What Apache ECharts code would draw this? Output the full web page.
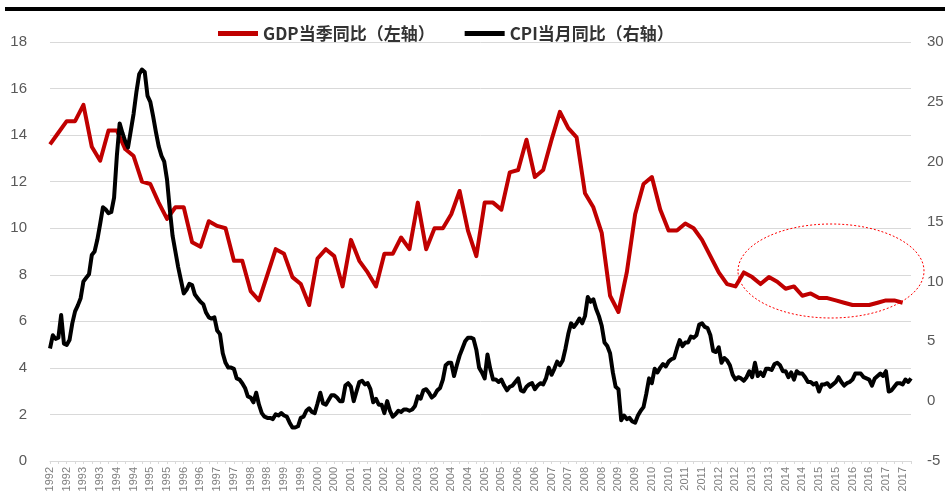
<!DOCTYPE html>
<html>
<head>
<meta charset="utf-8">
<script src="https://cdn.jsdelivr.net/npm/echarts@6/dist/echarts.min.js"></script>
<style>
html,body{margin:0;padding:0;background:#fff;}
#main{width:949px;height:502px;}
</style>
</head>
<body>
<div id="main"></div>
<script>
// 月份类目 1992-01 ~ 2017-10
var monthArray = [];
for (var y = 1992; y <= 2017; y++) {
	for (var m = 1; m <= 12; m++) {
		if (y == 2017 && m > 10) break;
		monthArray.push(y + '-' + (m < 10 ? '0' + m : m));
	}
}

// GDP当季同比，1992Q1 ~ 2017Q3
var gdpDataArray = [
	13.6, 14.1, 14.6, 14.6,
	15.3, 13.5, 12.9, 14.2,
	14.2, 13.4, 13.1, 12.0,
	11.9, 11.1, 10.4, 10.9,
	10.9, 9.4, 9.2, 10.3,
	10.1, 10.0, 8.6, 8.6,
	7.3, 6.9, 8.0, 9.1,
	8.9, 7.9, 7.6, 6.7,
	8.7, 9.1, 8.8, 7.5,
	9.5, 8.6, 8.1, 7.5,
	8.9, 8.9, 9.6, 9.1,
	11.1, 9.1, 10.0, 10.0,
	10.6, 11.6, 9.9, 8.8,
	11.1, 11.1, 10.8, 12.4,
	12.5, 13.8, 12.2, 12.5,
	13.8, 15.0, 14.3, 13.9,
	11.5, 10.9, 9.8, 7.1,
	6.4, 8.1, 10.6, 11.9,
	12.2, 10.8, 9.9, 9.9,
	10.2, 10.0, 9.5, 8.8,
	8.1, 7.6, 7.5, 8.1,
	7.9, 7.6, 7.9, 7.7,
	7.4, 7.5, 7.1, 7.2,
	7.0, 7.0, 6.9, 6.8,
	6.7, 6.7, 6.7, 6.8,
	6.9, 6.9, 6.8
];

// CPI当月同比，1992-01 ~ 2017-10
var cpiDataArray = [
	4.4, 5.5, 5.2, 5.3, 7.2, 4.8, 4.7, 5.1, 6.5, 7.5, 8.0, 8.6,
	10.0, 10.3, 10.6, 12.2, 12.5, 13.5, 14.8, 16.2, 16.0, 15.7, 15.8, 17.0,
	20.5, 23.2, 22.4, 21.7, 21.2, 22.6, 24.0, 25.8, 27.3, 27.7, 27.5, 25.5,
	25.0, 23.8, 22.5, 21.3, 20.5, 20.0, 18.5, 16.0, 13.8, 12.5, 11.2, 10.1,
	9.0, 9.3, 9.8, 9.7, 8.9, 8.6, 8.3, 8.1, 7.4, 7.0, 6.9, 7.0,
	5.9, 5.6, 4.0, 3.2, 2.8, 2.8, 2.7, 1.9, 1.8, 1.5, 1.1, 0.4,
	0.3, -0.1, 0.7, -0.3, -1.0, -1.3, -1.4, -1.4, -1.5, -1.1, -1.2, -1.0,
	-1.2, -1.3, -1.8, -2.2, -2.2, -2.1, -1.4, -1.3, -0.8, -0.6, -0.9, -1.0,
	-0.2, 0.7, -0.2, -0.3, 0.1, 0.5, 0.5, 0.3, 0.0, 0.0, 1.3, 1.5,
	1.2, 0.0, 0.8, 1.6, 1.7, 1.4, 1.5, 1.0, -0.1, 0.2, -0.3, -0.3,
	-1.0, 0.0, -0.8, -1.3, -1.1, -0.8, -0.9, -0.7, -0.7, -0.8, -0.7, -0.4,
	0.4, 0.2, 0.9, 1.0, 0.7, 0.3, 0.5, 0.9, 1.1, 1.8, 3.0, 3.2,
	3.2, 2.1, 3.0, 3.8, 4.4, 5.0, 5.3, 5.3, 5.2, 4.3, 2.8, 2.4,
	1.9, 3.9, 2.7, 1.8, 1.8, 1.6, 1.8, 1.3, 0.9, 1.2, 1.3, 1.6,
	1.9, 0.9, 0.8, 1.2, 1.4, 1.5, 1.0, 1.3, 1.5, 1.4, 1.9, 2.8,
	2.2, 2.7, 3.3, 3.0, 3.4, 4.4, 5.6, 6.5, 6.2, 6.5, 6.9, 6.5,
	7.1, 8.7, 8.3, 8.5, 7.7, 7.1, 6.3, 4.9, 4.6, 4.0, 2.4, 1.2,
	1.0, -1.6, -1.2, -1.5, -1.4, -1.7, -1.8, -1.2, -0.8, -0.5, 0.6, 1.9,
	1.5, 2.7, 2.4, 2.8, 3.1, 2.9, 3.3, 3.5, 3.6, 4.4, 5.1, 4.6,
	4.9, 4.9, 5.4, 5.3, 5.5, 6.4, 6.5, 6.2, 6.1, 5.5, 4.2, 4.1,
	4.5, 3.2, 3.6, 3.4, 3.0, 2.2, 1.8, 2.0, 1.9, 1.7, 2.0, 2.5,
	2.0, 3.2, 2.1, 2.4, 2.1, 2.7, 2.7, 2.6, 3.1, 3.2, 3.0, 2.5,
	2.5, 2.0, 2.4, 1.8, 2.5, 2.3, 2.3, 2.0, 1.6, 1.6, 1.4, 1.5,
	0.8, 1.4, 1.4, 1.5, 1.2, 1.4, 1.6, 2.0, 1.6, 1.3, 1.5, 1.6,
	1.8, 2.3, 2.3, 2.3, 2.0, 1.9, 1.8, 1.3, 1.9, 2.1, 2.3, 2.1,
	2.5, 0.8, 0.9, 1.2, 1.5, 1.5, 1.4, 1.8, 1.6, 1.9
];

var seriesNameArray = ['GDP当季同比（左轴）', 'CPI当月同比（右轴）'];

// GDP放在每季度首月
var gdpPairs = [];
for (var i = 0; i < gdpDataArray.length; i++) {
	gdpPairs.push([monthArray[i * 3], gdpDataArray[i]]);
}

var chart = echarts.init(document.getElementById('main'));
var option = {
	animation: false,
	backgroundColor: '#fff',
	grid: {
		left: 50,
		right: 38,
		top: 42,
		bottom: 41,
		containLabel: false
	},
	legend: {
		left: 213,
		top: 20,
		itemWidth: 40,
		itemHeight: 5,
		itemGap: 30,
		icon: 'rect',
		textStyle: {
			color: '#333',
			fontWeight: 'bold',
			fontSize: 17,
			fontFamily: 'Noto Sans CJK SC'
		},
		data: seriesNameArray
	},
	graphic: [{
		type: 'rect',
		shape: { x: 5, y: 7, width: 940, height: 4 },
		style: { fill: '#000' }
	}, {
		type: 'ellipse',
		shape: { cx: 831, cy: 271, rx: 93, ry: 47 },
		style: { fill: 'none', stroke: '#ff0000', lineWidth: 1, lineDash: [2, 2] },
		z: 100
	}],
	xAxis: {
		type: 'category',
		boundaryGap: false,
		data: monthArray,
		axisLine: {
			show: true,
			lineStyle: { color: '#d9d9d9' }
		},
		axisTick: {
			show: true,
			interval: 2,
			length: 3,
			lineStyle: { color: '#d9d9d9' }
		},
		axisLabel: {
			interval: 5,
			rotate: 90,
			margin: 6,
			color: '#7f7f7f',
			fontSize: 11,
			fontFamily: 'Liberation Sans',
			formatter: function (val) {
				return val.slice(0, 4);
			}
		},
		splitLine: { show: false }
	},
	yAxis: [{
		type: 'value',
		min: 0,
		max: 18,
		interval: 2,
		axisLine: { show: false },
		axisTick: { show: false },
		axisLabel: {
			margin: 23,
			color: '#595959',
			fontSize: 15,
			fontFamily: 'Liberation Sans'
		},
		splitLine: {
			show: true,
			lineStyle: { color: '#d9d9d9', width: 1 }
		}
	}, {
		type: 'value',
		min: -5,
		max: 30,
		interval: 5,
		position: 'right',
		axisLine: { show: false },
		axisTick: { show: false },
		axisLabel: {
			margin: 16,
			color: '#595959',
			fontSize: 15,
			fontFamily: 'Liberation Sans'
		},
		splitLine: { show: false }
	}],
	series: [{
		name: seriesNameArray[0],
		type: 'line',
		yAxisIndex: 0,
		showSymbol: false,
		symbol: 'none',
		color: '#c00000',
		lineStyle: { width: 4, color: '#c00000', join: 'round' },
		data: gdpPairs,
		z: 2
	}, {
		name: seriesNameArray[1],
		type: 'line',
		yAxisIndex: 1,
		showSymbol: false,
		symbol: 'none',
		color: '#000000',
		lineStyle: { width: 4, color: '#000000', join: 'round' },
		data: cpiDataArray,
		z: 3
	}]
};
chart.setOption(option);
</script>
</body>
</html>
